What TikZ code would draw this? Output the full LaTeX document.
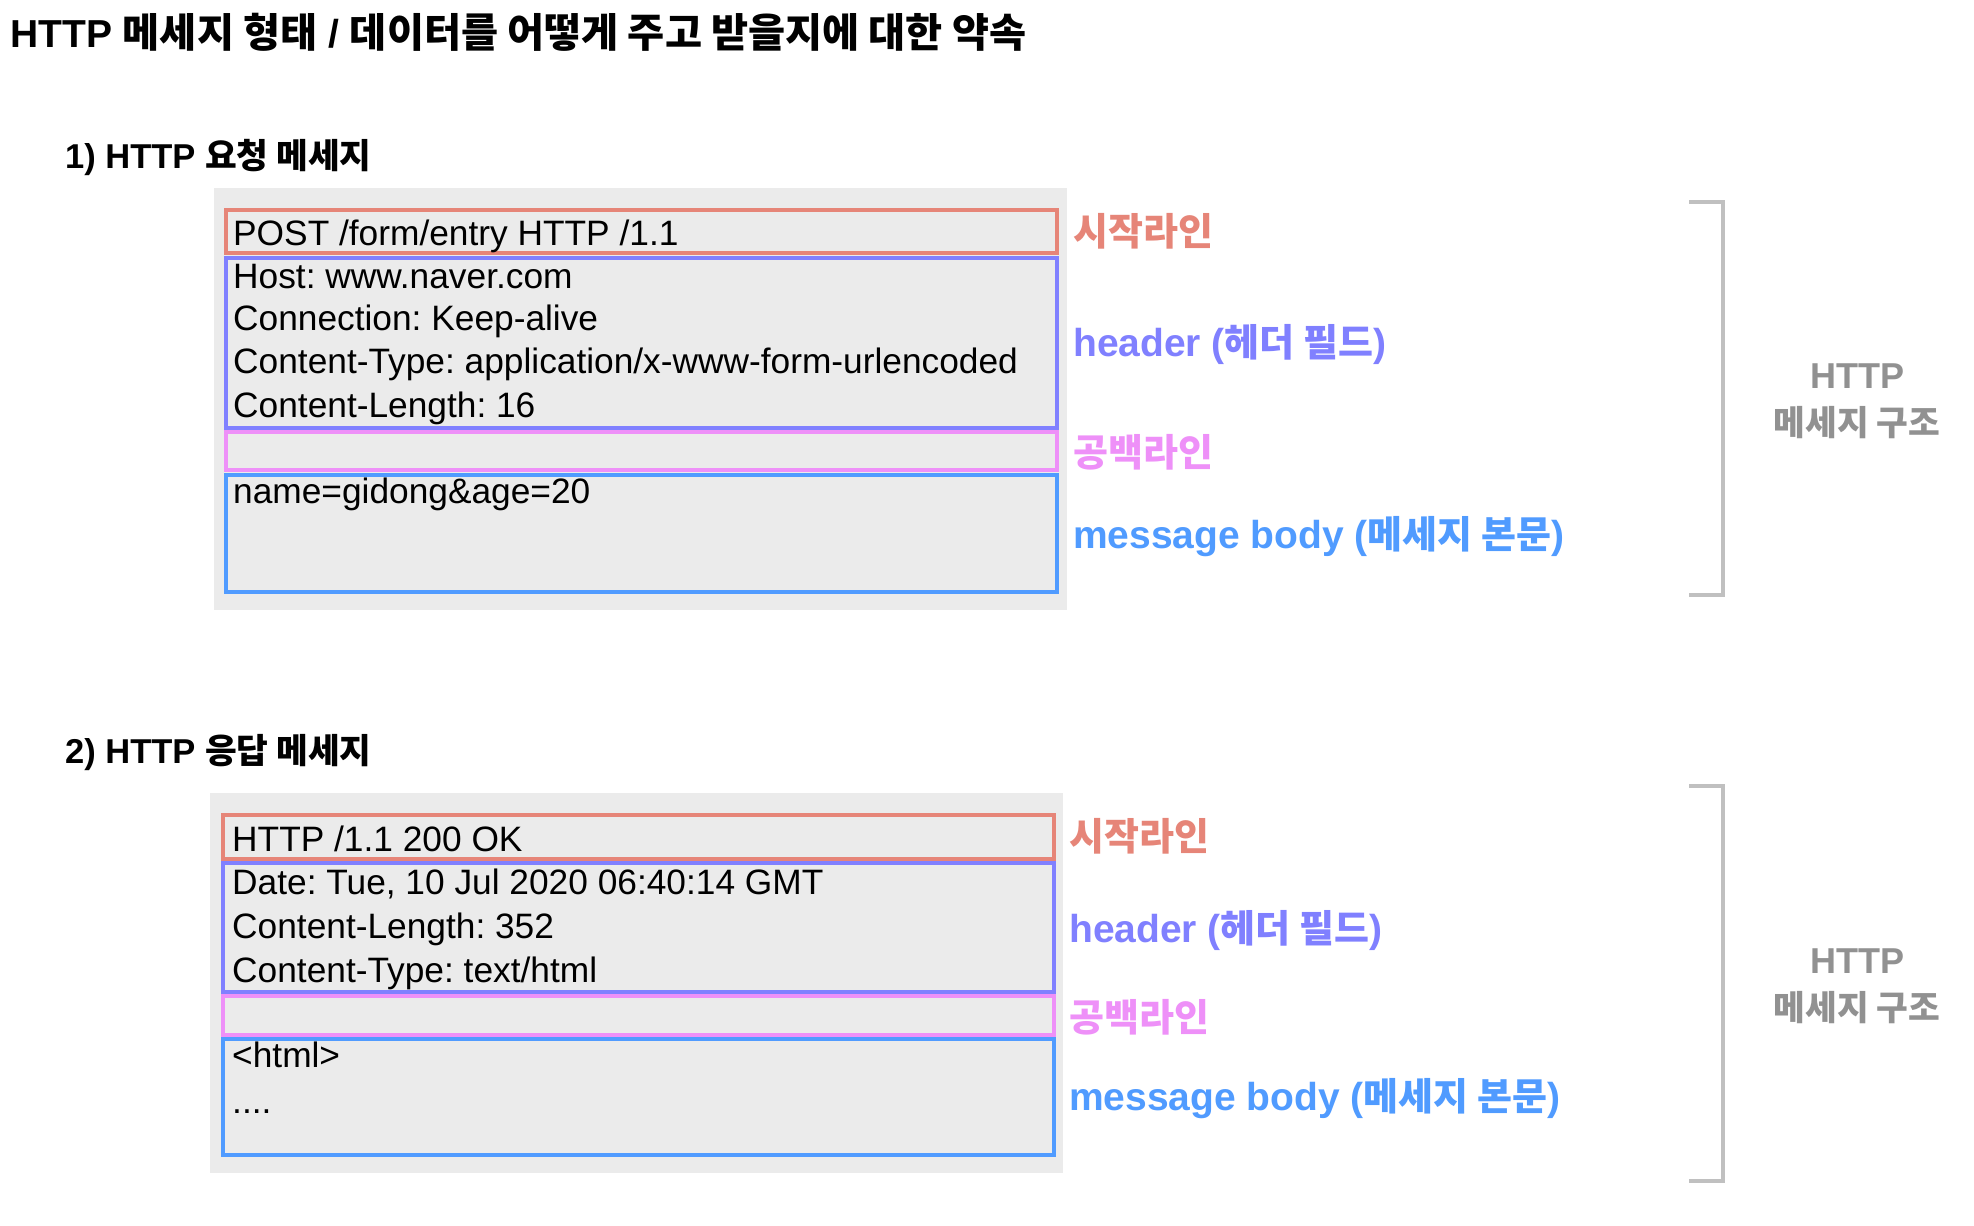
\documentclass[tikz,border=0pt]{standalone}
\usepackage{fontspec}
\setmainfont{Liberation Sans}
\newfontfamily\krfont{Noto Sans CJK KR}
\newcommand\kr[1]{{\krfont #1}}
\newcommand\krs[2]{{\fontsize{#1}{#1}\selectfont\krfont #2}}
\definecolor{cstart}{RGB}{230,133,120}
\definecolor{chead}{RGB}{128,128,255}
\definecolor{cblank}{RGB}{238,144,248}
\definecolor{cbody}{RGB}{80,155,255}
\definecolor{cbg}{RGB}{235,235,235}
\definecolor{cbrk}{RGB}{192,192,192}
\definecolor{cgtxt}{RGB}{145,145,145}
\begin{document}
\frenchspacing
\begin{tikzpicture}[x=1pt,y=-1pt,
  lbl/.style={anchor=base west,inner sep=0pt},
  boxtxt/.style={lbl,font=\fontsize{35.3}{40}\selectfont},
  sectxt/.style={lbl,font=\fontsize{34.5}{40}\selectfont\bfseries},
  sidetxt/.style={lbl,font=\fontsize{39}{46}\selectfont\bfseries},
  frame/.style={line width=3.3pt},
  brk/.style={draw=cbrk,line width=3.5pt},
  gtxt/.style={anchor=base,inner sep=0pt,text=cgtxt,font=\bfseries},
]
\useasboundingbox (0,0) rectangle (1974,1226);
\fill[white] (0,0) rectangle (1974,1226);

% title
\node[lbl,font=\fontsize{39}{46}\selectfont\bfseries] (title) at (10,47)
  {HTTP \krs{40.3}{메세지 형태} / \krs{40.3}{데이터를 어떻게 주고 받을지에 대한 약속}};

% ---------- section 1 ----------
\node[sectxt] (sec1) at (65,168) {1) HTTP \kr{요청 메세지}};
\fill[cbg] (214,188) rectangle (1067,610);
\draw[frame,cstart] (226,210) rectangle (1057,253);
\draw[frame,chead] (226,258) rectangle (1057,428);
\draw[frame,cblank] (226,432) rectangle (1057,470);
\draw[frame,cbody] (226,475) rectangle (1057,592);

\node[boxtxt] (q1) at (233,245) {POST /form/entry HTTP /1.1};
\node[boxtxt] (q2) at (233,288) {Host: www.naver.com};
\node[boxtxt] (q3) at (233,330) {Connection: Keep-alive};
\node[boxtxt] (q4) at (233,373) {Content-Type: application/x-www-form-urlencoded};
\node[boxtxt] (q5) at (233,417) {Content-Length: 16};
\node[boxtxt] (q6) at (233,503) {name=gidong\&age=20};

\node[sidetxt,text=cstart] (l1a) at (1073,245) {\krs{38}{시작라인}};
\node[sidetxt,text=chead] (l1b) at (1073,356) {header (\krs{38}{헤더 필드})};
\node[sidetxt,text=cblank] (l1c) at (1073,466) {\krs{38}{공백라인}};
\node[sidetxt,text=cbody] (l1d) at (1073,548) {message body (\krs{38}{메세지 본문})};

\coordinate (b1a) at (1689,202);
\coordinate (b1b) at (1689,595);
\draw[brk] (b1a) -- (1723,202) -- (1723,595) -- (b1b);
\node[gtxt,font=\fontsize{36}{40}\selectfont\bfseries] (s1a) at (1857,388) {HTTP};
\node[gtxt,font=\fontsize{34.5}{40}\selectfont\bfseries] (s1b) at (1857,435) {\kr{메세지 구조}};

% ---------- section 2 ----------
\node[sectxt] (sec2) at (65,763) {2) HTTP \kr{응답 메세지}};
\fill[cbg] (210,793) rectangle (1063,1173);
\draw[frame,cstart] (223,815) rectangle (1054,859);
\draw[frame,chead] (223,863) rectangle (1054,992);
\draw[frame,cblank] (223,996) rectangle (1054,1035);
\draw[frame,cbody] (223,1039) rectangle (1054,1155);

\node[boxtxt] (r1) at (232,851) {HTTP /1.1 200 OK};
\node[boxtxt] (r2) at (232,894) {Date: Tue, 10 Jul 2020 06:40:14 GMT};
\node[boxtxt] (r3) at (232,938) {Content-Length: 352};
\node[boxtxt] (r4) at (232,982) {Content-Type: text/html};
\node[boxtxt] (r5) at (232,1067) {<html>};
\node[boxtxt] (r6) at (232,1113) {....};

\node[sidetxt,text=cstart] (l2a) at (1069,850) {\krs{38}{시작라인}};
\node[sidetxt,text=chead] (l2b) at (1069,942) {header (\krs{38}{헤더 필드})};
\node[sidetxt,text=cblank] (l2c) at (1069,1031) {\krs{38}{공백라인}};
\node[sidetxt,text=cbody] (l2d) at (1069,1110) {message body (\krs{38}{메세지 본문})};

\coordinate (b2a) at (1689,786);
\coordinate (b2b) at (1689,1181);
\draw[brk] (b2a) -- (1723,786) -- (1723,1181) -- (b2b);
\node[gtxt,font=\fontsize{36}{40}\selectfont\bfseries] (s2a) at (1857,973) {HTTP};
\node[gtxt,font=\fontsize{34.5}{40}\selectfont\bfseries] (s2b) at (1857,1020) {\kr{메세지 구조}};
\end{tikzpicture}
\end{document}
